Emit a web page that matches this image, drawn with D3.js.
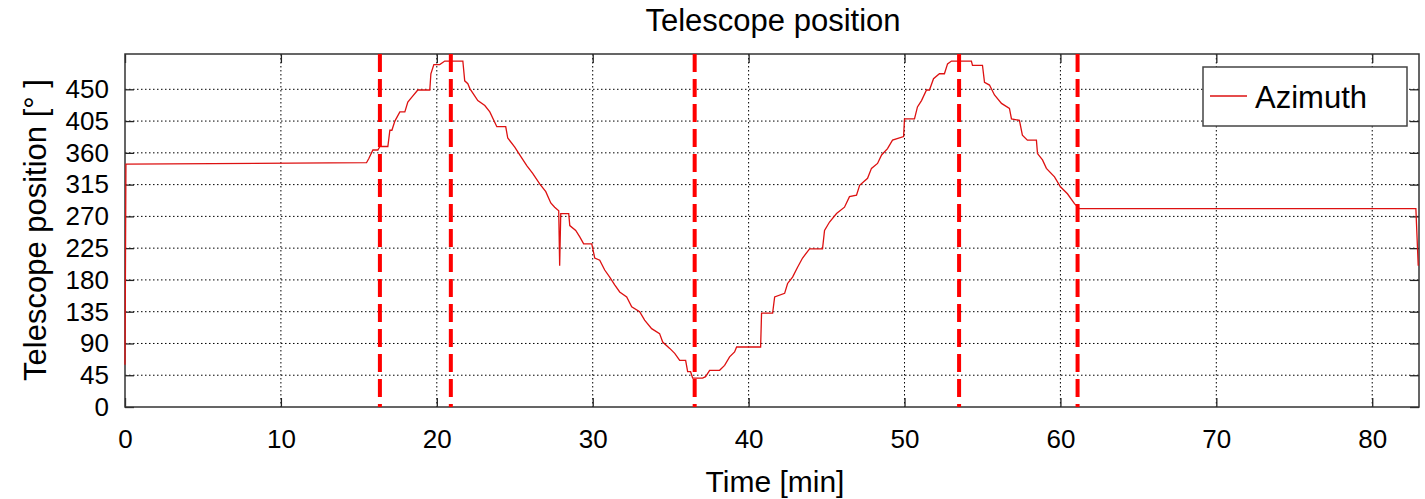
<!DOCTYPE html>
<html lang="en">
<head>
  <meta charset="utf-8">
  <title>Telescope position</title>
  <script src="https://cdn.jsdelivr.net/npm/d3@7"></script>
  <style>
    body { margin: 0; background: #fff; }
    text { font-family: "Liberation Sans", Arial, sans-serif; fill: #000; }
  </style>
</head>
<body>
  <div class="chart"></div>
  <script>
    // time in minutes, azimuth in degrees
    var timeMin = [0, 0.06, 15.49, 15.64, 15.90, 16.22, 16.35, 16.86, 16.99, 17.12, 17.31, 17.63, 17.95, 18.14, 18.40, 18.78,
      19.55, 19.62, 19.81, 20.19, 20.51, 21.67, 21.79, 21.99, 22.12, 22.63, 23.08, 23.40, 23.85, 24.42, 24.55, 25.00,
      25.32, 25.77, 26.15, 26.60, 26.99, 27.31, 27.56, 27.82, 27.88, 27.95, 28.46, 28.53, 28.91, 29.17, 29.42, 29.94,
      30.13, 30.45, 30.77, 31.09, 31.41, 31.73, 32.18, 32.50, 33.01, 33.33, 33.78, 34.29, 34.49, 34.94, 35.26, 35.58,
      35.96, 36.09, 36.28, 36.41, 37.05, 37.24, 37.50, 38.14, 38.46, 38.78, 39.10, 39.23, 40.77, 40.83, 41.54, 41.67,
      42.31, 42.50, 42.82, 43.14, 43.46, 43.91, 44.74, 44.87, 45.19, 45.64, 46.15, 46.47, 46.92, 47.12, 47.63, 47.88,
      48.27, 48.53, 48.91, 49.23, 49.94, 50.00, 50.64, 50.83, 51.09, 51.41, 51.60, 51.86, 52.24, 52.56, 52.76, 53.01,
      54.29, 54.36, 55.00, 55.13, 55.45, 55.77, 56.22, 56.73, 56.86, 57.37, 57.56, 57.88, 58.46, 58.53, 58.85, 59.10,
      59.62, 60.00, 60.45, 60.90, 61.22, 82.80, 82.95];
    var azimuthDeg = [60, 344, 346, 352, 364, 364, 369, 369, 392, 392, 405, 418, 418, 432, 439, 449,
      449, 472, 485, 485, 490, 490, 462, 458, 451, 434, 427, 418, 397, 397, 381, 368,
      357, 342, 331, 316, 305, 289, 283, 278, 200, 274, 274, 257, 250, 241, 231, 231,
      211, 208, 194, 184, 173, 163, 156, 142, 135, 123, 111, 104, 92, 83, 76, 66,
      66, 50, 50, 41, 41, 43, 52, 52, 59, 71, 78, 85, 85, 133, 133, 156,
      161, 175, 184, 198, 211, 224, 224, 250, 262, 274, 283, 298, 300, 314, 324, 338,
      345, 357, 366, 378, 383, 408, 408, 425, 434, 449, 449, 465, 472, 472, 486, 490,
      490, 484, 484, 460, 456, 442, 430, 423, 408, 406, 385, 378, 378, 359, 350, 338,
      326, 312, 302, 288, 281, 281, 200];
    // vertical event markers (min)
    var markers = [16.35, 20.9, 36.54, 53.5, 61.1];
    var xTicks = [0, 10, 20, 30, 40, 50, 60, 70, 80];
    var yTicks = [0, 45, 90, 135, 180, 225, 270, 315, 360, 405, 450];

    var W = 1425, H = 499;
    var pL = 125, pT = 54, pR = 1419, pB = 407;

    var svg = d3.select('.chart').append('svg')
      .attr('width', W).attr('height', H);

    var x = d3.scaleLinear().domain([0, 83]).range([pL, pR]);
    var y = d3.scaleLinear().domain([0, 500]).range([pB, pT]);

    // grid
    svg.append('g').selectAll('line').data(xTicks.slice(1)).enter().append('line')
      .attr('x1', d => x(d)).attr('x2', d => x(d))
      .attr('y1', pT).attr('y2', pB)
      .attr('stroke', '#000').attr('stroke-width', 1).attr('stroke-dasharray', '1.5,2.5');
    svg.append('g').selectAll('line').data(yTicks.slice(1)).enter().append('line')
      .attr('x1', pL).attr('x2', pR)
      .attr('y1', d => y(d)).attr('y2', d => y(d))
      .attr('stroke', '#000').attr('stroke-width', 1).attr('stroke-dasharray', '1.5,2.5');

    // axes (ticks inward, mirrored on top/right)
    var tl = 9;
    var xAxis = svg.append('g').attr('transform', 'translate(0,' + pB + ')')
      .call(d3.axisBottom(x).tickValues(xTicks).tickSizeInner(-tl).tickSizeOuter(0).tickPadding(tl + 14));
    var yAxis = svg.append('g').attr('transform', 'translate(' + pL + ',0)')
      .call(d3.axisLeft(y).tickValues(yTicks).tickSizeInner(-tl).tickSizeOuter(0).tickPadding(tl + 7));
    svg.append('g').attr('transform', 'translate(0,' + pT + ')')
      .call(d3.axisTop(x).tickValues(xTicks).tickSizeInner(-tl).tickSizeOuter(0).tickFormat(''));
    svg.append('g').attr('transform', 'translate(' + pR + ',0)')
      .call(d3.axisRight(y).tickValues(yTicks).tickSizeInner(-tl).tickSizeOuter(0).tickFormat(''));
    svg.selectAll('.domain').remove();
    svg.selectAll('.tick line').attr('stroke', '#222').attr('stroke-width', 1.3);
    xAxis.selectAll('text').style('font-size', '26px').attr('font-family', null);
    yAxis.selectAll('text').style('font-size', '26px').attr('font-family', null);

    svg.append('rect')
      .attr('x', pL).attr('y', pT).attr('width', pR - pL).attr('height', pB - pT)
      .attr('fill', 'none').attr('stroke', '#333').attr('stroke-width', 1.5);

    // data line
    var pts = timeMin.map((t, i) => [t, azimuthDeg[i]]);
    svg.append('path').datum(pts)
      .attr('d', d3.line().x(d => x(d[0])).y(d => y(d[1])))
      .attr('fill', 'none').attr('stroke', '#dd1111').attr('stroke-width', 1.3);

    // markers
    svg.append('g').selectAll('line').data(markers).enter().append('line')
      .attr('x1', d => x(d)).attr('x2', d => x(d))
      .attr('y1', pT).attr('y2', pB)
      .attr('stroke', '#f00').attr('stroke-width', 4).attr('stroke-dasharray', '18,7');

    // legend
    var lg = svg.append('g');
    lg.append('rect').attr('x', 1203).attr('y', 67).attr('width', 204).attr('height', 59)
      .attr('fill', '#fff').attr('stroke', '#444').attr('stroke-width', 1.5);
    lg.append('line').attr('x1', 1210).attr('x2', 1247).attr('y1', 96).attr('y2', 96)
      .attr('stroke', '#dd1111').attr('stroke-width', 1.3);
    lg.append('text').attr('x', 1255).attr('y', 108).style('font-size', '31px').text('Azimuth');

    // titles
    svg.append('text').attr('x', 773).attr('y', 31)
      .attr('text-anchor', 'middle').style('font-size', '31px').text('Telescope position');
    svg.append('text').attr('x', 775).attr('y', 492)
      .attr('text-anchor', 'middle').style('font-size', '30px').text('Time [min]');
    svg.append('text').attr('transform', 'translate(46,230) rotate(-90)')
      .attr('text-anchor', 'middle').style('font-size', '31px').text('Telescope position [° ]');
  </script>
</body>
</html>
